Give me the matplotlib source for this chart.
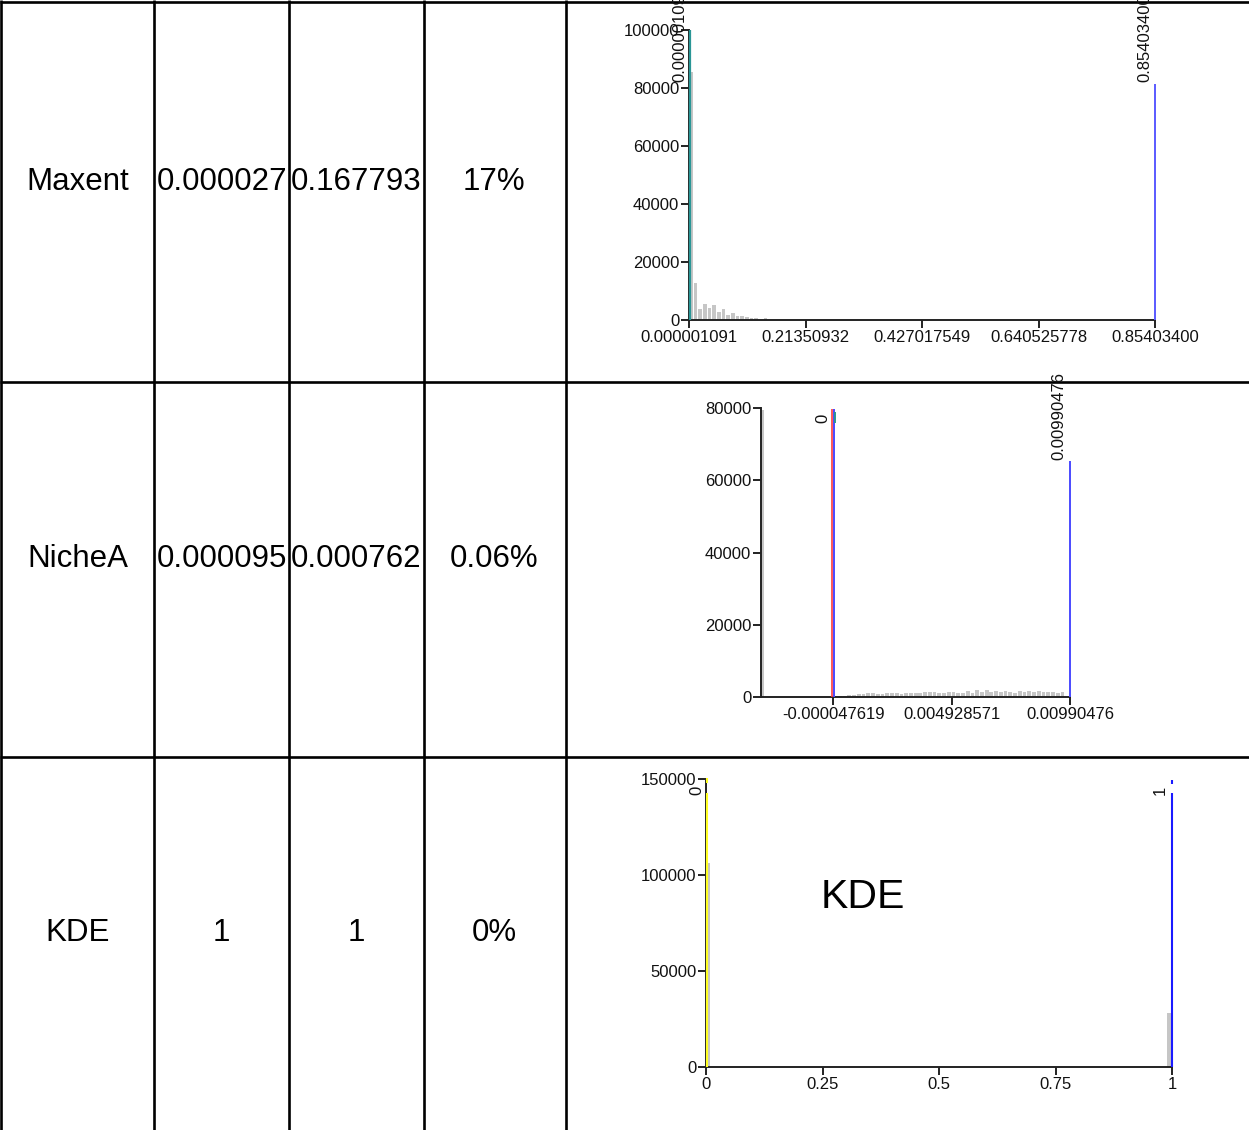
import matplotlib
matplotlib.use("Agg")
import matplotlib.pyplot as plt
import matplotlib.transforms as mtransforms
import numpy as np

plt.rcParams['font.family'] = ['Liberation Sans', 'DejaVu Sans']

W, H = 1249, 1130

# table content
row_names = ["Maxent", "NicheA", "KDE"]
col1_vals = ["0.000027", "0.000095", "1"]
col2_vals = ["0.167793", "0.000762", "1"]
pct_vals = ["17%", "0.06%", "0%"]

# Maxent histogram (100 bins)
maxent_range = (0.000001091, 0.854034007)
maxent_counts = [85500, 12900, 3700, 5500, 4100, 5200, 2900, 3700, 1700,
                 2300, 1400, 1400, 900, 800, 800, 0, 700] + [0] * 83
maxent_xticks = [0.000001091, 0.21350932, 0.427017549, 0.640525778, 0.854034007]
maxent_xlabels = ["0.000001091", "0.21350932", "0.427017549", "0.640525778", "0.85403400"]
maxent_yticks = [0, 20000, 40000, 60000, 80000, 100000]

# NicheA histogram (50 bins)
nichea_range = (-0.000047619, 0.00990476)
nichea_xmin = -0.003084
nichea_left_bar = 79500
nichea_counts = [200, 300, 370, 450, 650, 830, 830, 1000, 1020, 830,
                 830, 1110, 1020, 1020, 900, 1000, 1020, 1020, 1200, 1290,
                 1290, 1480, 1200, 1200, 1385, 1385, 1110, 1110, 1570, 1200,
                 2030, 1385, 1850, 1385, 1750, 1385, 1570, 1385, 1200, 1570,
                 1290, 1660, 1290, 1660, 1290, 1385, 1385, 1110, 1290, 0]
nichea_xticks = [-0.000047619, 0.004928571, 0.00990476]
nichea_xlabels = ["-0.000047619", "0.004928571", "0.00990476"]
nichea_yticks = [0, 20000, 40000, 60000, 80000]

# KDE histogram (100 bins)
kde_range = (0.0, 1.0)
kde_counts = [106000] + [0] * 98 + [28000]
kde_xticks = [0, 0.25, 0.5, 0.75, 1]
kde_xlabels = ["0", "0.25", "0.5", "0.75", "1"]
kde_yticks = [0, 50000, 100000, 150000]

GRAY = "#c6c6c6"
AX_C = "#222222"


def px_axes(fig, x0, x1, ytop, ybot):
    return fig.add_axes([x0 / W, 1 - ybot / H, (x1 - x0) / W, (ybot - ytop) / H])


def style(ax, xlim, ylim, xticks, xlabels, yticks):
    ax.set_xlim(*xlim)
    ax.set_ylim(*ylim)
    ax.patch.set_alpha(0)
    for s in ["top", "right"]:
        ax.spines[s].set_visible(False)
    for s in ["left", "bottom"]:
        ax.spines[s].set_color(AX_C)
        ax.spines[s].set_linewidth(1.4)
    ax.set_xticks(xticks)
    ax.set_xticklabels(xlabels)
    ax.set_yticks(yticks)
    ax.set_yticklabels([str(v) for v in yticks])
    ax.tick_params(direction="out", length=6, width=1.4, color=AX_C,
                   labelsize=12, labelcolor="#111111", pad=1)


def hist(ax, rng, counts):
    edges = np.linspace(rng[0], rng[1], len(counts) + 1)
    bw = edges[1] - edges[0]
    ax.bar(edges[:-1], counts, width=bw * 0.8, align="edge", color=GRAY,
           linewidth=0, zorder=1)


def vline(ax, fig, x, y0, y1, color, lw, dx=0):
    tr = mtransforms.offset_copy(ax.transData, fig=fig, x=dx, y=0, units="dots")
    ax.plot([x, x], [y0, y1], color=color, lw=lw, transform=tr,
            clip_on=False, zorder=3, solid_capstyle="butt")


def vlabel(ax, x, y, text, dx):
    ax.annotate(text, xy=(x, y), xytext=(dx, 0), textcoords="offset pixels",
                rotation=90, ha="center", va="bottom", fontsize=12,
                color="#111111", annotation_clip=False, zorder=4)


fig = plt.figure(figsize=(W / 100, H / 100), dpi=100)

# table background
bg = fig.add_axes([0, 0, 1, 1])
bg.set_xlim(0, W)
bg.set_ylim(H, 0)
bg.axis("off")
for x in [1.5, 154, 289, 424, 566]:
    bg.plot([x, x], [0, H], color="black", lw=1.9, solid_capstyle="butt")
for y in [1.5, 382, 757]:
    bg.plot([0, W], [y, y], color="black", lw=1.9, solid_capstyle="butt")

baselines = [190, 567, 941]
for i, yb in enumerate(baselines):
    bg.text(78, yb, row_names[i], ha="center", va="baseline", fontsize=22.5)
    if i < 2:
        bg.text(157, yb, col1_vals[i], ha="left", va="baseline", fontsize=22.5)
        bg.text(291, yb, col2_vals[i], ha="left", va="baseline", fontsize=22.5)
    else:
        bg.text(221, yb, col1_vals[i], ha="center", va="baseline", fontsize=22.5)
        bg.text(356, yb, col2_vals[i], ha="center", va="baseline", fontsize=22.5)
    bg.text(494, yb, pct_vals[i], ha="center", va="baseline", fontsize=22.5)

# Maxent
ax1 = px_axes(fig, 689, 1155, 30, 320)
style(ax1, maxent_range, (0, 100000), maxent_xticks, maxent_xlabels, maxent_yticks)
hist(ax1, maxent_range, maxent_counts)
vline(ax1, fig, maxent_range[0], 0, 100000, "#2a9696", 1.6, dx=1)
vline(ax1, fig, maxent_range[1], 0, 81400, "#5a5aff", 1.4)
vlabel(ax1, maxent_range[0], 82000, "0.000001091", -9)
vlabel(ax1, maxent_range[1], 82000, "0.854034007", -10)

# NicheA
ax2 = px_axes(fig, 761, 1070, 408, 697)
style(ax2, (nichea_xmin, nichea_range[1]), (0, 80000), nichea_xticks, nichea_xlabels, nichea_yticks)
hist(ax2, nichea_range, nichea_counts)
ax2.bar(nichea_xmin, nichea_left_bar, width=0.00012, align="edge", color=GRAY,
        linewidth=0, zorder=1)
vline(ax2, fig, nichea_range[0], 0, 79700, "#ff3b3b", 1.2, dx=-1.5)
vline(ax2, fig, nichea_range[0], 0, 79700, "#4a4aff", 1.4, dx=0.5)
vline(ax2, fig, nichea_range[0], 75900, 78900, "#2a9696", 1.4, dx=1.5)
vline(ax2, fig, nichea_range[1], 0, 65300, "#4a4aff", 1.4)
vlabel(ax2, nichea_range[0], 75800, "0", -10)
vlabel(ax2, nichea_range[1], 65600, "0.00990476", -11)

# KDE
ax3 = px_axes(fig, 706, 1172, 779, 1067)
style(ax3, kde_range, (0, 150000), kde_xticks, kde_xlabels, kde_yticks)
hist(ax3, kde_range, kde_counts)
vline(ax3, fig, 0, 0, 142700, "#ffff22", 1.5, dx=0.5)
vline(ax3, fig, 0, 147900, 150500, "#ffff22", 1.5, dx=0.5)
vline(ax3, fig, 1, 0, 142700, "#1a1aff", 1.5)
vline(ax3, fig, 1, 147400, 149500, "#1a1aff", 1.5)
vlabel(ax3, 0, 141700, "0", -9)
vlabel(ax3, 1, 141700, "1", -12)
bg.text(863, 908, "KDE", ha="center", va="baseline", fontsize=29.5)

fig.savefig("out.png", dpi=100)
